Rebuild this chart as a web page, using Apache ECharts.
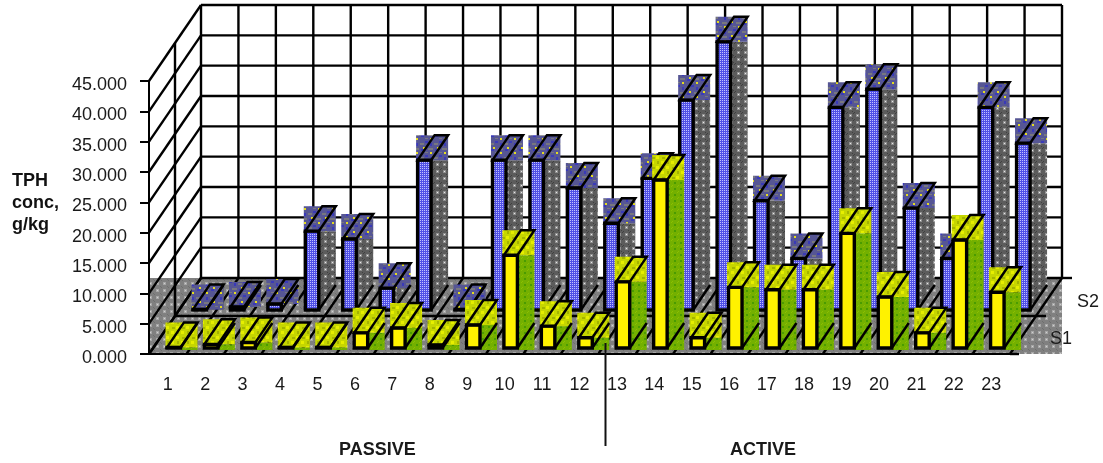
<!DOCTYPE html>
<html>
<head>
<meta charset="utf-8">
<style>
  html, body { margin: 0; padding: 0; background: #fff; }
  #chart { width: 1103px; height: 463px; }
</style>
<script src="https://cdn.jsdelivr.net/npm/echarts@6/dist/echarts.min.js"></script>
</head>
<body>
<div id="chart"></div>
<script>
const categories = ['1','2','3','4','5','6','7','8','9','10','11','12','13','14','15','16','17','18','19','20','21','22','23'];
const s1Values = [0.1,0.6,0.9,0.1,0.1,2.5,3.3,0.5,3.8,15.3,3.6,1.7,10.9,27.7,1.7,10,9.6,9.6,18.9,8.4,2.5,17.8,9.2];
const s2Values = [0.1,0.5,1,13,11.7,3.6,24.7,0.1,24.7,24.7,20.1,14.3,21.7,34.6,44.2,18,8.5,33.4,36.4,16.8,8.5,33.4,27.5];
const yTicks = [0,5,10,15,20,25,30,35,40,45];

// Excel-style oblique depth of the whole plot, and of one bar
const DEPTH_X = 52, DEPTH_Y = 76;
const BAR_W = 13.5, BAR_DX = 17, BAR_DY = 25;

// Small bitmap fills, the original uses the same kind of dithered patterns
function tile(size, draw) {
  const c = document.createElement('canvas');
  c.width = c.height = size;
  const g = c.getContext('2d');
  draw(g);
  return { image: c, repeat: 'repeat' };
}
function px(g, color, list) {
  g.fillStyle = color;
  list.forEach(p => g.fillRect(p[0], p[1], p[2] || 1, p[3] || 1));
}
const fills = {
  floor: tile(7, g => {
    px(g, '#808080', [[0,0,7,7]]);
    px(g, '#a6a6a6', [[2,2,3,3]]);
    px(g, '#d0d0d0', [[3,3]]);
    px(g, '#6e6e6e', [[0,0],[6,6]]);
  }),
  blue: tile(2, g => {
    px(g, '#5050e6', [[0,0,2,2]]);
    px(g, '#c0c0ff', [[0,0]]);
  }),
  greySide: tile(7, g => {
    px(g, '#5c5c5c', [[0,0,7,7]]);
    px(g, '#909090', [[2,2,3,3]]);
    px(g, '#e8e8e8', [[3,3]]);
    px(g, '#404040', [[0,0],[6,1],[5,6]]);
  }),
  navyTop: tile(14, g => {
    px(g, '#565694', [[0,0,14,14]]);
    px(g, '#77777f', [[0,3,4,2],[8,8,5,2],[5,12,3,1]]);
    px(g, '#3a3ab8', [[5,1,3,2],[10,3,2,3],[1,9,3,2]]);
    px(g, '#e4dc20', [[3,7,2,2],[10,12,2,2]]);
  }),
  yellowTop: tile(10, g => {
    px(g, '#c6d600', [[0,0,10,10]]);
    px(g, '#e6ee00', [[1,1,3,3],[6,6,3,3]]);
    px(g, '#a4b400', [[7,1,2,3],[2,7,3,2]]);
  }),
  green: tile(6, g => {
    px(g, '#74b000', [[0,0,6,6]]);
    px(g, '#4a9c00', [[2,2,2,2]]);
    px(g, '#8cc000', [[5,0],[0,5]]);
  })
};

const seg = (a, b) => ({
  type: 'line',
  shape: { x1: a[0], y1: a[1], x2: b[0], y2: b[1] },
  style: { stroke: '#000', lineWidth: 2.4 }
});

// Walls, floor and gridlines, all hung off the two axes
function renderFrame(params, api) {
  if (params.dataIndex > 0) return null;
  const band = api.size([1, 0])[0];
  const left = api.coord([0, 0])[0] - band / 2;
  const right = left + band * categories.length;
  const y0 = api.coord([0, 0])[1];
  const yTop = api.coord([0, yTicks[yTicks.length - 1]])[1];
  const kids = [{
    type: 'rect',
    shape: { x: left + 1, y: y0 - DEPTH_Y, width: right - left + DEPTH_X - 1, height: DEPTH_Y },
    style: { fill: fills.floor }
  }];
  yTicks.forEach(v => {
    const y = api.coord([0, v])[1];
    kids.push(seg([left, y], [left + DEPTH_X, y - DEPTH_Y]));
    kids.push(seg([left + DEPTH_X, y - DEPTH_Y], [right + DEPTH_X, y - DEPTH_Y]));
  });
  for (let i = 0; i <= categories.length; i++) {
    const x = left + i * band;
    kids.push(seg([x + DEPTH_X, yTop - DEPTH_Y], [x + DEPTH_X, y0 - DEPTH_Y]));
    kids.push(seg([x, y0], [x + DEPTH_X, y0 - DEPTH_Y]));
  }
  // middle of the depth axis, between S1 and S2
  const midX = DEPTH_X / 2, midY = DEPTH_Y / 2;
  kids.push(seg([left + midX, yTop - midY], [left + midX, y0 - midY]));
  kids.push(seg([left + midX, y0 - midY], [right + midX + 10, y0 - midY]));
  kids.push(seg([right + DEPTH_X, y0 - DEPTH_Y], [right + DEPTH_X + 10, y0 - DEPTH_Y]));
  kids.push(seg([right, y0], [right + 9, y0]));
  return { type: 'group', children: kids };
}

function barRenderer(offsetX, baseLift, topFill, sideFill, frontFill, clipSide) {
  return function (params, api) {
    const band = api.size([1, 0])[0];
    const x0 = api.coord([api.value(0), 0])[0] - band / 2 + offsetX;
    const x1 = x0 + BAR_W;
    const base = api.coord([0, 0])[1] - baseLift;
    const top = api.coord([0, api.value(1)])[1] - baseLift;
    const side = clipSide
      ? { type: 'polygon', shape: { points: [[x1, top], [x1 + BAR_DX, top], [x1 + BAR_DX, base - BAR_DY], [x1, base]] }, style: { fill: sideFill } }
      : { type: 'rect', shape: { x: x1, y: top, width: BAR_DX, height: base + 2 - top }, style: { fill: sideFill } };
    return {
      type: 'group',
      children: [
        side,
        { type: 'rect', shape: { x: x0 - 1.5, y: top - BAR_DY, width: BAR_W + BAR_DX + 1.5, height: BAR_DY }, style: { fill: topFill } },
        { type: 'rect', shape: { x: x0, y: top, width: BAR_W, height: base - top }, style: { fill: frontFill, stroke: '#000', lineWidth: 3.4 } },
        { type: 'polygon', shape: { points: [[x0, top], [x1, top], [x1 + BAR_DX, top - BAR_DY], [x0 + BAR_DX, top - BAR_DY]] }, style: { fill: 'none', stroke: '#000', lineWidth: 2.5 } },
        { type: 'line', shape: { x1: x1, y1: base, x2: x1 + BAR_DX, y2: base - BAR_DY }, style: { stroke: '#000', lineWidth: 2.5 } }
      ]
    };
  };
}

const labelFont = { fontFamily: '"Liberation Sans", Arial, sans-serif', fontSize: 18, color: '#1a1a1a' };
const captionStyle = { fontFamily: '"Liberation Sans", Arial, sans-serif', fontSize: 18, fill: '#1a1a1a' };

const chart = echarts.init(document.getElementById('chart'));
chart.setOption({
  animation: false,
  backgroundColor: '#fff',
  title: {
    text: 'TPH\nconc,\ng/kg',
    left: 12,
    top: 170,
    padding: 0,
    textStyle: { fontFamily: '"Liberation Sans", Arial, sans-serif', fontSize: 18, fontWeight: 'bold', color: '#111', lineHeight: 22 }
  },
  grid: { left: 149, top: 81, width: 861, height: 273 },
  xAxis: {
    type: 'category',
    data: categories,
    z: 10,
    axisLine: { lineStyle: { color: '#000', width: 2 } },
    axisTick: { length: 9, lineStyle: { color: '#000', width: 2 } },
    axisLabel: Object.assign({ margin: 22, interval: 0 }, labelFont)
  },
  yAxis: {
    type: 'value',
    min: 0,
    max: 45,
    interval: 5,
    z: 10,
    splitLine: { show: false },
    axisLine: { show: true, lineStyle: { color: '#000', width: 2 } },
    axisTick: { show: true, length: 9, lineStyle: { color: '#000', width: 2 } },
    axisLabel: Object.assign({ margin: 22, verticalAlign: 'top', lineHeight: 8, formatter: v => v.toFixed(3) }, labelFont)
  },
  series: [
    { type: 'custom', name: 'frame', z: 1, silent: true, renderItem: renderFrame, data: [[0, 0]], encode: { x: 0, y: 1 } },
    {
      type: 'custom', name: 'S2', z: 2, silent: true,
      renderItem: barRenderer(44, 44, fills.navyTop, fills.greySide, fills.blue, true),
      data: s2Values.map((v, i) => [i, v]), encode: { x: 0, y: 1 }
    },
    {
      type: 'custom', name: 'S1', z: 3, silent: true,
      renderItem: barRenderer(18, 6, fills.yellowTop, fills.green, '#fff200', false),
      data: s1Values.map((v, i) => [i, v]), encode: { x: 0, y: 1 }
    }
  ],
  graphic: [
    { type: 'text', z: 20, left: 1077, top: 293, style: Object.assign({ text: 'S2' }, captionStyle) },
    { type: 'text', z: 20, left: 1050, top: 330, style: Object.assign({ text: 'S1' }, captionStyle) },
    { type: 'text', z: 20, left: 339, top: 441, style: Object.assign({ text: 'PASSIVE', fontWeight: 'bold' }, captionStyle) },
    { type: 'text', z: 20, left: 730, top: 441, style: Object.assign({ text: 'ACTIVE', fontWeight: 'bold' }, captionStyle) },
    { type: 'line', z: 20, shape: { x1: 605.5, y1: 343, x2: 605.5, y2: 446 }, style: { stroke: '#111', lineWidth: 2 } }
  ]
});
</script>
</body>
</html>
